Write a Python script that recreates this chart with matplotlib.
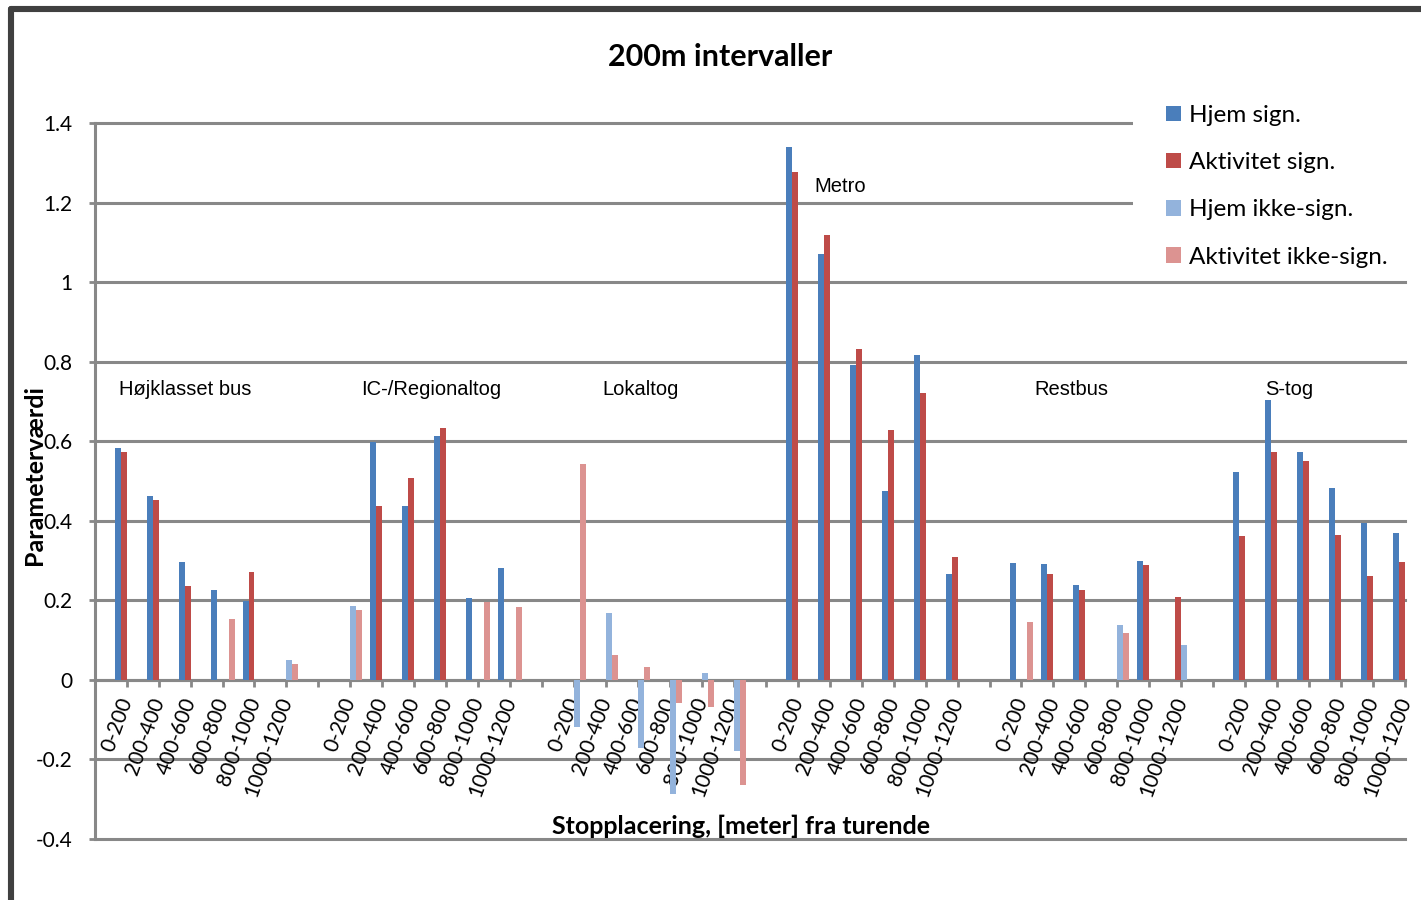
import numpy as np
import matplotlib.pyplot as plt
from matplotlib.patches import Rectangle
from matplotlib.lines import Line2D

nan = np.nan

groups = ['Højklasset bus', 'IC-/Regionaltog', 'Lokaltog', 'Metro', 'Restbus', 'S-tog']
intervals = ['0-200', '200-400', '400-600', '600-800', '800-1000', '1000-1200']

# one value per interval, groups in the order above
hjem_sign = [0.584, 0.463, 0.297, 0.225, 0.199, nan,
             nan, 0.597, 0.437, 0.614, 0.206, 0.282,
             nan, nan, nan, nan, nan, nan,
             1.340, 1.070, 0.791, 0.476, 0.817, 0.265,
             0.295, 0.291, 0.238, nan, 0.298, nan,
             0.523, 0.704, 0.573, 0.483, 0.395, 0.369]
aktivitet_sign = [0.573, 0.452, 0.237, nan, 0.271, nan,
                  nan, 0.437, 0.508, 0.634, nan, nan,
                  nan, nan, nan, nan, nan, nan,
                  1.276, 1.118, 0.832, 0.629, 0.721, 0.309,
                  nan, 0.266, 0.227, nan, 0.288, 0.208,
                  0.361, 0.573, 0.551, 0.365, 0.260, 0.297]
hjem_ikke = [nan, nan, nan, nan, nan, 0.049,
             0.187, nan, nan, nan, nan, nan,
             -0.118, 0.168, -0.170, -0.287, 0.018, -0.178,
             nan, nan, nan, nan, nan, nan,
             nan, nan, nan, 0.137, nan, 0.087,
             nan, nan, nan, nan, nan, nan]
aktivitet_ikke = [nan, nan, nan, 0.154, nan, 0.041,
                  0.176, nan, nan, nan, 0.196, 0.183,
                  0.542, 0.063, 0.032, -0.058, -0.069, -0.264,
                  nan, nan, nan, nan, nan, nan,
                  0.145, nan, nan, 0.117, nan, nan,
                  nan, nan, nan, nan, nan, nan]

series = [('Hjem sign.', hjem_sign, '#4a7ebb'),
          ('Aktivitet sign.', aktivitet_sign, '#be4b48'),
          ('Hjem ikke-sign.', hjem_ikke, '#93b3dc'),
          ('Aktivitet ikke-sign.', aktivitet_ikke, '#dc9391')]

# group label placement (category units, value units)
label_pos = [(2.83, 0.73), (10.52, 0.73), (17.09, 0.73), (23.32, 1.24), (30.55, 0.73), (37.37, 0.73)]

grid_col = '#888888'
W, H = 1421, 900

fig = plt.figure(figsize=(W / 100, H / 100), dpi=100)
ax = fig.add_axes([94.7 / W, 1 - 839 / H, (1405 - 94.7) / W, (839 - 123) / H])

# axis styling first: moving a spine rebuilds the ticks
for s in ['top', 'right']:
    ax.spines[s].set_visible(False)
ax.spines['bottom'].set_position(('data', 0))
ax.spines['bottom'].set_color(grid_col)
ax.spines['bottom'].set_linewidth(2.2)
ax.spines['left'].set_color(grid_col)
ax.spines['left'].set_linewidth(2.2)

# one empty slot between the groups
x = np.array([1 + g * 7 + i for g in range(len(groups)) for i in range(len(intervals))], dtype=float)
w = 0.1875
for k, (name, vals, col) in enumerate(series):
    ax.bar(x + (k - 1.5) * w, vals, width=w, color=col, label=name, zorder=3)

ax.set_xlim(0, 41)
ax.set_ylim(-0.4, 1.4)
yt = np.round(np.arange(-0.4, 1.41, 0.2), 1)
for v in yt:
    ax.axhline(v, color=grid_col, lw=2.2, zorder=1, clip_on=False)
ax.set_yticks(yt)
ax.set_yticklabels(['0' if v == 0 else f'{v:g}' for v in yt], family='Lato', fontsize=15)

xt = np.arange(0, 42)
lab = [''] * len(xt)
for xi, l in zip(x, intervals * len(groups)):
    lab[int(xi)] = l
ax.set_xticks(xt)
ax.set_xticklabels(lab, family='Lato', fontsize=15)
plt.setp(ax.get_xticklabels(), rotation=70, ha='right', va='center', rotation_mode='anchor')
ax.tick_params(axis='x', length=5, width=2, color=grid_col, pad=8)
ax.tick_params(axis='y', length=4, width=2, color=grid_col, pad=12)

for (px, py), g in zip(label_pos, groups):
    ax.text(px, py, g, ha='center', va='center', family='Liberation Sans', fontsize=14.5, zorder=5)

# white area behind the legend
fig.add_artist(Rectangle((1133 / W, 1 - 274 / H), (W - 1133) / W, 182 / H,
                         transform=fig.transFigure, facecolor='white', edgecolor='none', zorder=4))
fig.legend(loc='upper left', bbox_to_anchor=(1166 / W, 1 - 105 / H), frameon=False,
           prop={'family': 'Lato', 'size': 17.5}, handlelength=0.6, handleheight=0.6,
           handletextpad=0.35, labelspacing=1.08, borderpad=0, borderaxespad=0)

fig.text(720 / W, 1 - 57 / H, '200m intervaller', ha='center', va='center',
         family='Lato', weight='bold', fontsize=22)
fig.text(35 / W, 1 - 475 / H, 'Parameterværdi', ha='center', va='center', rotation=90,
         family='Lato', weight='bold', fontsize=18)
fig.text(741 / W, 1 - 826 / H, 'Stopplacering, [meter] fra turende', ha='center', va='center',
         family='Lato', weight='bold', fontsize=18)

# chart frame
fig.add_artist(Line2D([11 / W, 11 / W], [-0.05, 1 - 9 / H], color='#404040', lw=4.4,
                      transform=fig.transFigure, solid_capstyle='round'))
fig.add_artist(Line2D([11 / W, 1.05], [1 - 9 / H, 1 - 9 / H], color='#404040', lw=4.4,
                      transform=fig.transFigure, solid_capstyle='round'))

fig.savefig('out.png', dpi=100)
